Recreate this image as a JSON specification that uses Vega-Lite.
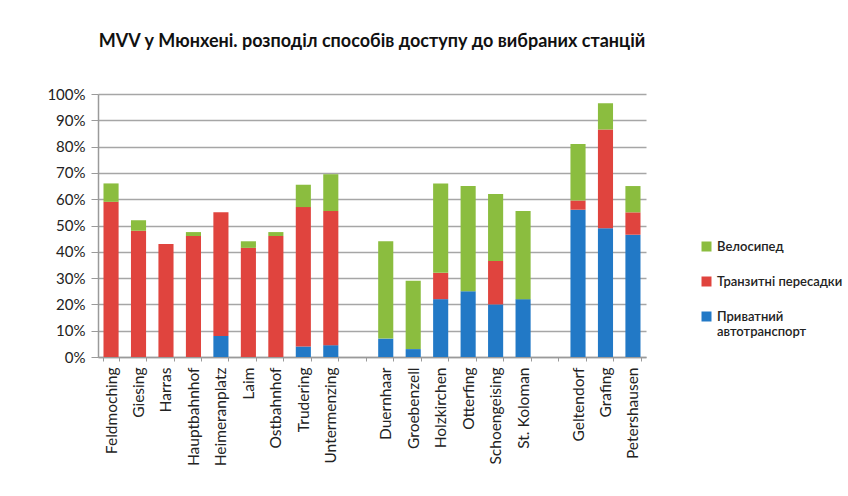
{
  "$schema": "https://vega.github.io/schema/vega-lite/v6.json",
  "width": 548,
  "height": 263,
  "autosize": {"type": "none"},
  "padding": {"left": 98, "top": 94, "right": 202, "bottom": 139},
  "background": "white",
  "title": {
    "text": "MVV у Мюнхені. розподіл способів доступу до вибраних станцій",
    "font": "Lato",
    "fontSize": 18,
    "fontWeight": "bold",
    "color": "#111111",
    "anchor": "middle",
    "offset": 36
  },
  "data": {
    "values": [
      {"station": "Feldmoching", "mode": "Приватний автотранспорт", "value": 0.0},
      {"station": "Feldmoching", "mode": "Транзитні пересадки", "value": 0.59},
      {"station": "Feldmoching", "mode": "Велосипед", "value": 0.07},
      {"station": "Giesing", "mode": "Транзитні пересадки", "value": 0.48},
      {"station": "Giesing", "mode": "Велосипед", "value": 0.04},
      {"station": "Harras", "mode": "Транзитні пересадки", "value": 0.43},
      {"station": "Hauptbahnhof", "mode": "Транзитні пересадки", "value": 0.46},
      {"station": "Hauptbahnhof", "mode": "Велосипед", "value": 0.015},
      {"station": "Heimeranplatz", "mode": "Приватний автотранспорт", "value": 0.08},
      {"station": "Heimeranplatz", "mode": "Транзитні пересадки", "value": 0.47},
      {"station": "Laim", "mode": "Транзитні пересадки", "value": 0.415},
      {"station": "Laim", "mode": "Велосипед", "value": 0.025},
      {"station": "Ostbahnhof", "mode": "Транзитні пересадки", "value": 0.46},
      {"station": "Ostbahnhof", "mode": "Велосипед", "value": 0.015},
      {"station": "Trudering", "mode": "Приватний автотранспорт", "value": 0.04},
      {"station": "Trudering", "mode": "Транзитні пересадки", "value": 0.53},
      {"station": "Trudering", "mode": "Велосипед", "value": 0.085},
      {"station": "Untermenzing", "mode": "Приватний автотранспорт", "value": 0.045},
      {"station": "Untermenzing", "mode": "Транзитні пересадки", "value": 0.51},
      {"station": "Untermenzing", "mode": "Велосипед", "value": 0.14},
      {"station": "Duernhaar", "mode": "Приватний автотранспорт", "value": 0.07},
      {"station": "Duernhaar", "mode": "Велосипед", "value": 0.37},
      {"station": "Groebenzell", "mode": "Приватний автотранспорт", "value": 0.03},
      {"station": "Groebenzell", "mode": "Велосипед", "value": 0.26},
      {"station": "Holzkirchen", "mode": "Приватний автотранспорт", "value": 0.22},
      {"station": "Holzkirchen", "mode": "Транзитні пересадки", "value": 0.10},
      {"station": "Holzkirchen", "mode": "Велосипед", "value": 0.34},
      {"station": "Otterfing", "mode": "Приватний автотранспорт", "value": 0.25},
      {"station": "Otterfing", "mode": "Велосипед", "value": 0.40},
      {"station": "Schoengeising", "mode": "Приватний автотранспорт", "value": 0.20},
      {"station": "Schoengeising", "mode": "Транзитні пересадки", "value": 0.165},
      {"station": "Schoengeising", "mode": "Велосипед", "value": 0.255},
      {"station": "St. Koloman", "mode": "Приватний автотранспорт", "value": 0.22},
      {"station": "St. Koloman", "mode": "Велосипед", "value": 0.335},
      {"station": "Geltendorf", "mode": "Приватний автотранспорт", "value": 0.56},
      {"station": "Geltendorf", "mode": "Транзитні пересадки", "value": 0.035},
      {"station": "Geltendorf", "mode": "Велосипед", "value": 0.215},
      {"station": "Grafing", "mode": "Приватний автотранспорт", "value": 0.49},
      {"station": "Grafing", "mode": "Транзитні пересадки", "value": 0.375},
      {"station": "Grafing", "mode": "Велосипед", "value": 0.10},
      {"station": "Petershausen", "mode": "Приватний автотранспорт", "value": 0.465},
      {"station": "Petershausen", "mode": "Транзитні пересадки", "value": 0.085},
      {"station": "Petershausen", "mode": "Велосипед", "value": 0.10}
    ]
  },
  "transform": [
    {"calculate": "indexof(['Приватний автотранспорт','Транзитні пересадки','Велосипед'], datum.mode)", "as": "stackOrder"}
  ],
  "mark": {"type": "bar", "stroke": null},
  "encoding": {
    "x": {
      "field": "station",
      "type": "nominal",
      "scale": {
        "domain": ["Feldmoching", "Giesing", "Harras", "Hauptbahnhof", "Heimeranplatz", "Laim", "Ostbahnhof", "Trudering", "Untermenzing", " ", "Duernhaar", "Groebenzell", "Holzkirchen", "Otterfing", "Schoengeising", "St. Koloman", "  ", "Geltendorf", "Grafing", "Petershausen"],
        "paddingInner": 0.45,
        "paddingOuter": 0.2
      },
      "axis": {
        "title": null,
        "labelAngle": -90,
        "labelFont": "Lato",
        "labelFontSize": 15.5,
        "labelColor": "#222222",
        "labelPadding": 6,
        "domainColor": "#9a9a9a",
        "domainWidth": 1.5,
        "tickColor": "#9a9a9a",
        "tickBand": "extent",
        "tickSize": 4,
        "grid": false
      }
    },
    "y": {
      "field": "value",
      "type": "quantitative",
      "stack": "zero",
      "scale": {"domain": [0, 1]},
      "axis": {
        "title": null,
        "format": ".0%",
        "values": [0, 0.1, 0.2, 0.3, 0.4, 0.5, 0.6, 0.7, 0.8, 0.9, 1.0],
        "labelFont": "Lato",
        "labelFontSize": 15,
        "labelColor": "#222222",
        "labelPadding": 6,
        "domainColor": "#9a9a9a",
        "domainWidth": 1.5,
        "tickColor": "#9a9a9a",
        "tickSize": 7,
        "grid": true,
        "gridColor": "#a6a6a6",
        "gridWidth": 1.5
      }
    },
    "color": {
      "field": "mode",
      "type": "nominal",
      "scale": {
        "domain": ["Велосипед", "Транзитні пересадки", "Приватний автотранспорт"],
        "range": ["#8bbd3f", "#e0443e", "#2279c6"]
      },
      "legend": {
        "title": null,
        "orient": "none",
        "legendX": 602,
        "legendY": 146,
        "symbolType": "square",
        "symbolSize": 100,
        "symbolStrokeWidth": 0,
        "labelFont": "Lato",
        "labelFontSize": 13,
        "labelFontWeight": 600,
        "labelColor": "#222222",
        "labelLimit": 200,
        "rowPadding": 21,
        "labelExpr": "datum.label == 'Приватний автотранспорт' ? ['Приватний', 'автотранспорт'] : datum.label"
      }
    },
    "order": {"field": "stackOrder", "type": "quantitative"}
  },
  "config": {
    "view": {"stroke": null}
  }
}
